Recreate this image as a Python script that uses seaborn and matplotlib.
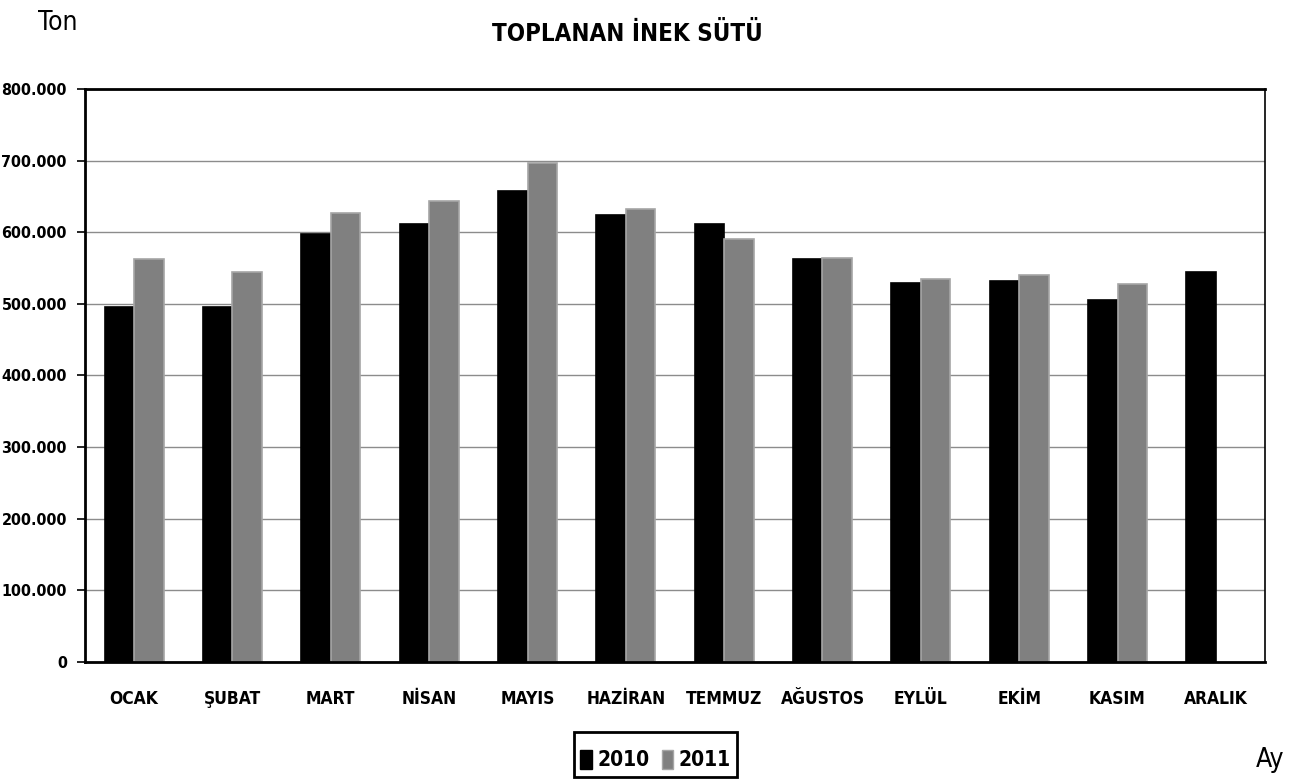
import matplotlib
matplotlib.use("Agg")
import matplotlib.pyplot as plt
from matplotlib.ticker import FuncFormatter, FixedLocator
from matplotlib import font_manager as fm
from matplotlib.patches import Patch
import seaborn as sns
import pandas as pd
import numpy as np

months = ["OCAK", "ŞUBAT", "MART", "NİSAN", "MAYIS", "HAZİRAN", "TEMMUZ",
          "AĞUSTOS", "EYLÜL", "EKİM", "KASIM", "ARALIK"]
y2010 = [496000, 496000, 598000, 611000, 657000, 624000, 611000,
         562000, 529000, 532000, 506000, 545000]
y2011 = [562000, 545000, 627000, 643000, 696000, 633000, 591000,
         564000, 535000, 541000, 528000, np.nan]
years = ["2010", "2011"]
colors = ["#000000", "#808080"]

df = pd.DataFrame({
    "Ay": months * 2,
    "Ton": y2010 + y2011,
    "Yıl": [years[0]] * 12 + [years[1]] * 12,
})

sns.set_theme(style="white")

# pick a condensed font if one is installed
entries = fm.fontManager.ttflist
names = {f.name for f in entries}
stretch = "normal"
if "Liberation Sans Narrow" in names:
    FONT = ["Liberation Sans Narrow", "DejaVu Sans"]
elif any(f.name == "DejaVu Sans" and str(f.stretch) in ("condensed", "semi-condensed") for f in entries):
    FONT = ["DejaVu Sans"]
    stretch = "condensed"
else:
    cands = sorted(n for n in names if "Condensed" in n or "Narrow" in n)
    FONT = [cands[0], "DejaVu Sans"] if cands else ["DejaVu Sans"]
condensed = FONT[0] != "DejaVu Sans" or stretch == "condensed"
scale = 1.0 if condensed else 0.82

plt.rcParams["font.family"] = FONT
plt.rcParams["font.stretch"] = stretch
plt.rcParams["text.color"] = "black"
plt.rcParams["xtick.color"] = "black"
plt.rcParams["ytick.color"] = "black"

fig = plt.figure(figsize=(12.89, 7.82), dpi=100)
ax = fig.add_axes([85 / 1289, 1 - 662 / 782, (1265 - 85) / 1289, (662 - 89) / 782])

sns.barplot(data=df, x="Ay", y="Ton", hue="Yıl", palette=colors, width=0.6,
            ax=ax, legend=False, saturation=1)

for p, c in zip(ax.patches, ["#000000"] * 12 + ["#a6a6a6"] * 12):
    p.set_edgecolor(c)
    p.set_linewidth(1.2)

ax.set_ylim(0, 800000)
ax.set_xlim(-0.5, 11.5)
ax.yaxis.set_major_locator(FixedLocator(np.arange(0, 800001, 100000)))
ax.yaxis.set_major_formatter(FuncFormatter(lambda v, p: f"{int(v):,}".replace(",", ".")))
ax.yaxis.grid(True, color="#8c8c8c", lw=1)
ax.set_axisbelow(True)

ax.set_xticks(range(12))
ax.set_xticklabels(months)
ax.set_xticks(np.arange(-0.5, 12, 1), minor=True)
ax.tick_params(axis="x", which="major", length=0, pad=20)
ax.tick_params(axis="x", which="minor", length=6, width=1.2, color="black", direction="out")
ax.tick_params(axis="y", length=6, width=1.2, color="black", direction="out", pad=7, left=True)
for lab in ax.get_xticklabels():
    lab.set_fontweight("bold")
    lab.set_fontsize(12.5 * scale)
    lab.set_fontstretch(stretch)
    lab.set_color("black")
for lab in ax.get_yticklabels():
    lab.set_fontweight("bold")
    lab.set_fontsize(11.5 * scale)
    lab.set_fontstretch(stretch)
    lab.set_color("black")

ax.set_xlabel("")
ax.set_ylabel("")
for s in ["left", "bottom", "top"]:
    ax.spines[s].set_color("black")
    ax.spines[s].set_linewidth(2)
ax.spines["right"].set_color("black")
ax.spines["right"].set_linewidth(1.2)

fig.text(0.487, 0.957, "TOPLANAN İNEK SÜTÜ", ha="center", va="center",
         fontsize=17.3 * scale, fontweight="bold", fontstretch=stretch)
fig.text(0.0445, 0.971, "Ton", ha="center", va="center", fontsize=19 * scale, fontstretch=stretch)
fig.text(0.9855, 0.028, "Ay", ha="center", va="center", fontsize=19 * scale, fontstretch=stretch)

handles = [Patch(facecolor=colors[0], edgecolor=colors[0]),
           Patch(facecolor=colors[1], edgecolor="#a6a6a6")]
leg = fig.legend(handles, years, loc="upper center", bbox_to_anchor=(0.5085, 0.064),
                 ncol=2, frameon=True, fancybox=False, framealpha=1, handlelength=0.55,
                 handleheight=1.05, handletextpad=0.25, columnspacing=0.6,
                 borderpad=0.3, borderaxespad=0, title=" ", title_fontsize=1,
                 prop={"family": FONT, "weight": "bold",
                       "size": 15 * scale, "stretch": stretch})
leg.get_frame().set_edgecolor("black")
leg.get_frame().set_linewidth(2)

fig.savefig("out.png", dpi=100)
